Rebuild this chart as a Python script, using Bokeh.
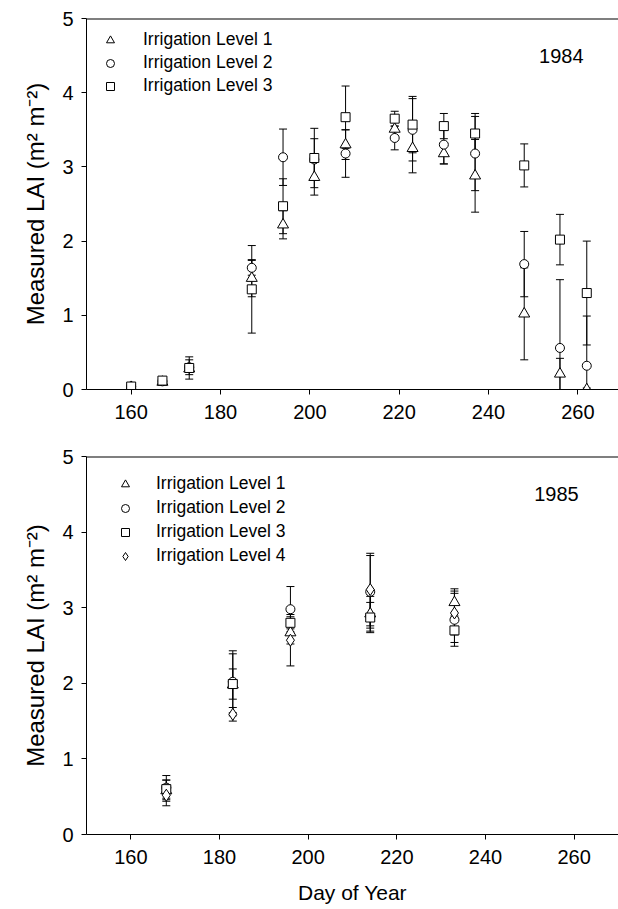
import numpy as np
from bokeh.plotting import figure
from bokeh.models import (ColumnDataSource, Whisker, TeeHead, Legend, LegendItem,
                          Label, Span, FixedTicker)
from bokeh.layouts import column
from bokeh.embed import file_html
from bokeh.resources import INLINE

FONT = "Liberation Sans"

# ---------------- 1984 data ----------------
days_1984 = [160, 167, 173, 187, 194, 201, 208, 219, 223, 230, 237, 248, 256, 262]
lai84_l1 = [0.03, 0.10, 0.28, 1.50, 2.22, 2.86, 3.30, 3.51, 3.25, 3.18, 2.88, 1.02, 0.21, 0.00]
err84_l1 = [0.02, 0.02, 0.05, 0.25, 0.19, 0.24, 0.20, 0.10, 0.33, 0.14, 0.49, 0.62, 0.21, 0.02]
lai84_l2 = [0.04, 0.11, 0.30, 1.64, 3.13, 3.10, 3.18, 3.39, 3.50, 3.30, 3.18, 1.69, 0.56, 0.32]
err84_l2 = [0.03, 0.02, 0.10, 0.10, 0.38, 0.28, 0.32, 0.16, 0.42, 0.26, 0.50, 0.44, 0.92, 0.67]
lai84_l3 = [0.04, 0.12, 0.29, 1.35, 2.47, 3.12, 3.67, 3.65, 3.57, 3.55, 3.45, 3.02, 2.02, 1.30]
err84_l3 = [0.03, 0.03, 0.15, 0.59, 0.37, 0.40, 0.42, 0.10, 0.38, 0.17, 0.27, 0.29, 0.34, 0.70]

# ---------------- 1985 data ----------------
days_1985 = [168, 183, 196, 214, 233]
lai85_l1 = [0.58, 1.98, 2.67, 2.92, 3.07]
err85_l1 = [0.14, 0.41, 0.15, 0.23, 0.18]
lai85_l2 = [0.62, 2.02, 2.98, 3.21, 2.84]
err85_l2 = [0.16, 0.41, 0.30, 0.48, 0.35]
lai85_l3 = [0.60, 1.99, 2.80, 2.87, 2.70]
err85_l3 = [0.12, 0.20, 0.08, 0.20, 0.16]
lai85_l4 = [0.52, 1.59, 2.57, 3.24, 2.93]
err85_l4 = [0.14, 0.09, 0.34, 0.48, 0.29]

labels = ["Irrigation Level 1", "Irrigation Level 2", "Irrigation Level 3", "Irrigation Level 4"]
markers = ["triangle", "circle", "square", "diamond"]
msizes = [11, 9, 9, 12]

x_ticks = [160, 180, 200, 220, 240, 260]
y_ticks = [0, 1, 2, 3, 4, 5]
ylab = "Measured LAI (m\u00b2 m\u207b\u00b2)"


def make_fig(days, series, errs, year, frame_w, frame_h, left, top, bottom,
             leg_loc, leg_standoff, leg_spacing, year_x, xlabel=None):
    p = figure(frame_width=frame_w, frame_height=frame_h, x_range=(150, 270), y_range=(0, 5),
               output_backend="svg", toolbar_location=None,
               min_border_left=left, min_border_right=0, min_border_top=top,
               min_border_bottom=bottom)
    p.outline_line_color = None
    p.grid.visible = False
    p.background_fill_color = "white"
    p.border_fill_color = "white"

    for ax in (p.xaxis[0], p.yaxis[0]):
        ax.axis_line_color = "black"
        ax.major_tick_line_color = "black"
        ax.major_tick_out = 5
        ax.major_tick_in = 0
        ax.minor_tick_line_color = None
        ax.major_label_text_font = FONT
        ax.major_label_text_font_size = "20px"
        ax.major_label_text_color = "black"
        ax.axis_label_text_font = FONT
        ax.axis_label_text_font_style = "normal"
        ax.axis_label_text_color = "black"
    p.xaxis.ticker = FixedTicker(ticks=x_ticks)
    p.yaxis.ticker = FixedTicker(ticks=y_ticks)
    p.xaxis.major_label_standoff = 10
    p.yaxis.major_label_standoff = 8
    p.yaxis.axis_label = ylab
    p.yaxis.axis_label_text_font_size = "24px"
    p.yaxis.axis_label_standoff = 10
    if xlabel:
        p.xaxis.axis_label = xlabel
        p.xaxis.axis_label_text_font_size = "21px"
        p.xaxis.axis_label_standoff = 14

    p.add_layout(Span(location=5, dimension="width", line_color="black", line_width=2))

    d = np.array(days, dtype=float)
    items = []
    for i, (vals, ee) in enumerate(zip(series, errs)):
        v = np.array(vals)
        e = np.array(ee)
        src = ColumnDataSource(dict(x=d, y=v, up=v + e, lo=np.maximum(v - e, 0.0)))
        w = Whisker(base="x", upper="up", lower="lo", source=src, dimension="height",
                    line_color="black", line_width=1, level="underlay",
                    upper_head=TeeHead(size=8, line_color="black", line_width=1),
                    lower_head=TeeHead(size=8, line_color="black", line_width=1))
        p.add_layout(w)
    for i, vals in enumerate(series):
        src = ColumnDataSource(dict(x=d, y=np.array(vals)))
        r = p.scatter("x", "y", source=src, marker=markers[i], size=msizes[i],
                      line_color="black", fill_color="white", line_width=1)
        items.append(LegendItem(label=labels[i], renderers=[r]))

    leg = Legend(items=items, location=leg_loc, glyph_width=20, glyph_height=20,
                 label_height=20, label_standoff=leg_standoff, spacing=leg_spacing,
                 padding=0, margin=0, border_line_color=None, background_fill_alpha=0,
                 label_text_font=FONT, label_text_font_size="17.5px", label_text_color="black")
    p.add_layout(leg)

    p.add_layout(Label(x=year_x, y=4.5, text=year, text_align="center",
                       text_baseline="alphabetic", text_font=FONT, text_font_size="20px",
                       text_color="black"))
    return p


p1 = make_fig(days_1984, [lai84_l1, lai84_l2, lai84_l3], [err84_l1, err84_l2, err84_l3],
              "1984", 536, 371, 82, 18, 40, (28, 293), 23, 2, 256.3)
p2 = make_fig(days_1985, [lai85_l1, lai85_l2, lai85_l3, lai85_l4],
              [err85_l1, err85_l2, err85_l3, err85_l4],
              "1985", 532, 378, 86, 27, 40, (29, 268), 21, 3, 256.0, xlabel="Day of Year")

layout = column(p1, p2, spacing=0)
open("out.html", "w").write(file_html(layout, INLINE))
